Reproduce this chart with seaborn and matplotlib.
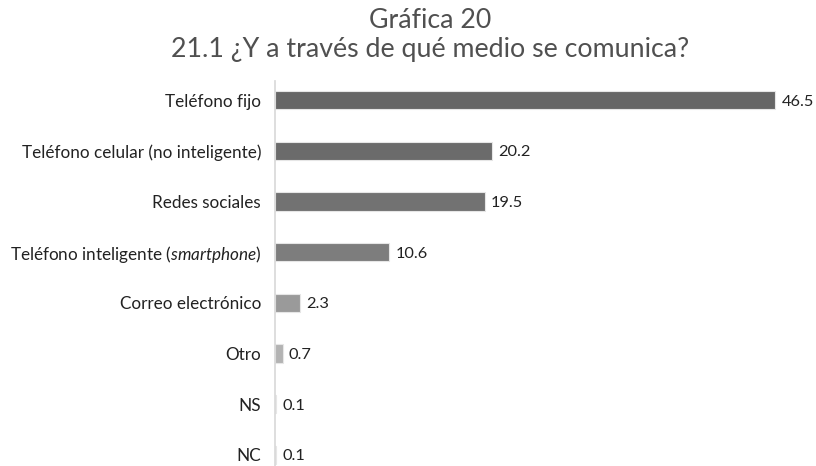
import matplotlib
matplotlib.use("Agg")
import matplotlib.pyplot as plt
import seaborn as sns
import pandas as pd

categories = ["Teléfono fijo", "Teléfono celular (no inteligente)", "Redes sociales",
              "Teléfono inteligente (smartphone)", "Correo electrónico", "Otro", "NS", "NC"]
tick_labels = ["Teléfono fijo", "Teléfono celular (no inteligente)", "Redes sociales",
               "Teléfono inteligente ($\\it{smartphone}$)", "Correo electrónico", "Otro", "NS", "NC"]
values = [46.5, 20.2, 19.5, 10.6, 2.3, 0.7, 0.1, 0.1]
colors = ["#666666", "#6b6b6b", "#727272", "#7d7d7d", "#9a9a9a", "#b3b3b3", "#cfcfcf", "#d6d6d6"]

df = pd.DataFrame({"cat": categories, "val": values})

sns.set_theme(style="white")
plt.rcParams['font.family'] = ['Lato', 'DejaVu Sans']
plt.rcParams['mathtext.fontset'] = 'custom'
plt.rcParams['mathtext.it'] = 'Lato:italic'
plt.rcParams['mathtext.rm'] = 'Lato'

fig = plt.figure(figsize=(8.16, 4.66), dpi=100)
ax = fig.add_axes([275/816, 0, 515/816, 385/466])
sns.barplot(data=df, x="val", y="cat", hue="cat", palette=colors, legend=False,
            orient="h", width=0.36, ax=ax, saturation=1, linewidth=0.8,
            edgecolor="#e6e6e6")
ax.set_ylim(7.22, -0.38)
ax.set_xlim(0, 515/10.75)
for i, v in enumerate(values):
    ax.text(v + 0.6, i + 0.03, f"{v:.1f}", va="center", ha="left", fontsize=11.8, color="#222222")
for s in ["top", "right", "bottom"]:
    ax.spines[s].set_visible(False)
ax.spines["left"].set_color("#d9d9d9")
ax.set_xticks([])
ax.set_xlabel("")
ax.set_ylabel("")
ax.tick_params(axis="y", length=0, pad=10, labelsize=12.3, labelcolor="#222222")
ax.set_yticks(range(len(categories)))
ax.set_yticklabels(tick_labels)

fig.text(430/816, 1 - 21/466, "Gráfica 20", ha="center", va="center", fontsize=19.3,
         color="#505050", family=["Lato", "DejaVu Sans"])
fig.text(430/816, 1 - 49/466, "21.1 ¿Y a través de qué medio se comunica?", ha="center",
         va="center", fontsize=19.3, color="#505050", family=["Lato", "DejaVu Sans"])

fig.savefig("out.png", dpi=100)
